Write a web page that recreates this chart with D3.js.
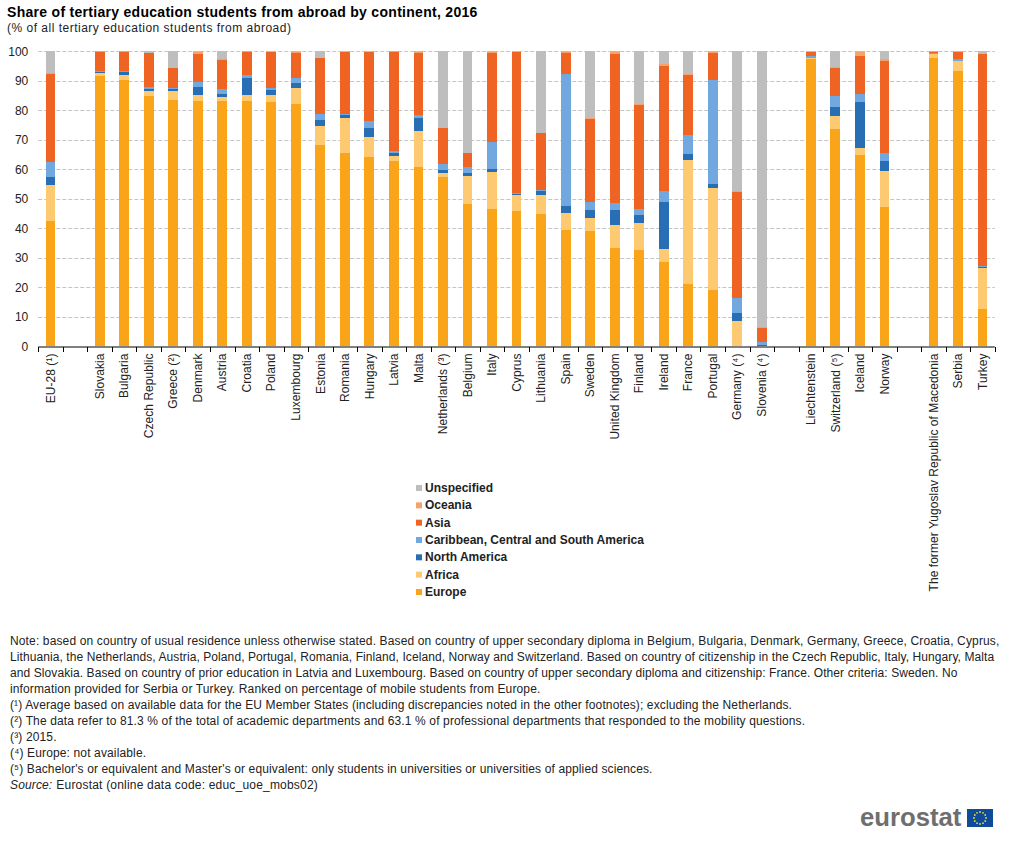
<!DOCTYPE html>
<html><head><meta charset="utf-8">
<script src="https://cdn.jsdelivr.net/npm/d3@7"></script>
<style>html,body{margin:0;padding:0;background:#fff}svg{display:block}text{font-family:"Liberation Sans",Arial,sans-serif}</style>
</head><body><svg id="c" width="1011" height="845"></svg>
<script>
const categories=["EU-28 (¹)","","Slovakia","Bulgaria","Czech Republic","Greece (²)","Denmark","Austria","Croatia","Poland","Luxembourg","Estonia","Romania","Hungary","Latvia","Malta","Netherlands (³)","Belgium","Italy","Cyprus","Lithuania","Spain","Sweden","United Kingdom","Finland","Ireland","France","Portugal","Germany (⁴)","Slovenia (⁴)"," ","Liechtenstein","Switzerland (⁵)","Iceland","Norway","  ","The former Yugoslav Republic of Macedonia","Serbia","Turkey"];
const europe=[42.6,0,91.7,90.3,84.9,83.5,83.2,83.2,83.2,82.9,82.2,68.3,65.6,64.3,62.9,60.9,57.5,48.4,46.7,46,45,39.4,39.1,33.3,32.6,28.6,21.1,19.1,0,0,0,97.4,73.7,64.9,47.1,0,97.7,93.3,12.6];
const africa=[12.2,0,0.9,1.6,1.7,3,2,1.4,2,2.3,5.4,6.4,11.9,6.7,1.7,12.2,1.4,9.4,12.5,5.4,6.4,5.9,4.4,7.8,9.2,4.4,42.1,34.7,8.6,0.1,0,0.3,4.4,2.4,12.4,0,1.4,3.4,13.9];
const northAmerica=[2.7,0,0.4,1.1,0.7,0.6,2.7,1,5.8,1.7,1.7,2.1,1,3.1,1,4.4,1,1.1,1,0.1,1.4,2.4,2.8,5.1,2.8,15.9,2.1,1.3,2.7,0.5,0,0.1,3.1,15.6,3.4,0,0.1,0.1,0.4];
const csAmerica=[5.1,0,0.3,0.2,0.6,0.5,1.7,1.7,1,0.7,1.7,2,0.3,2.3,0.7,1,2,2,9.1,0.3,0.3,44.6,2.7,2.5,2.1,3.9,6.4,35.2,5.1,0.9,0,0.6,3.7,2.7,2.7,0,0.1,0.6,0.3];
const asia=[29.8,0,6.5,6.6,11.5,6.8,9.5,9.8,7.8,12.2,8.4,18.9,21,23.4,33.5,20.9,12.2,4.7,30.1,48.1,19.3,7.1,28.1,50.4,35.1,42.2,20.3,9.1,36,4.7,0,1.4,9.5,12.8,31.1,0,0.4,2.4,71.9];
const oceania=[0.3,0,0.2,0.2,0.1,0.1,0.8,0.2,0.2,0,0.4,0.1,0,0,0.2,0.4,0,0,0.4,0,0,0.4,0.4,0.7,0.4,0.7,0.3,0.4,0.4,0.3,0,0.1,0.3,1.4,0.7,0,0.3,0.1,0];
const unspecified=[7.3,0,0,0,0.5,5.5,0.1,2.7,0,0.2,0.2,2.2,0.2,0.2,0,0.2,25.9,34.4,0.2,0.2,27.6,0.2,22.5,0.2,17.8,4.3,7.7,0.2,47.2,93.5,0,0.1,5.3,0.2,2.6,0,0,0.1,0.9];
const seriesNames=["Europe","Africa","North America","Caribbean, Central and South America","Asia","Oceania","Unspecified"];
const seriesValues=[europe,africa,northAmerica,csAmerica,asia,oceania,unspecified];
const seriesColors=["#FAA519","#FDC971","#286EB4","#71A8DF","#F06423","#F6A26B","#BEBEBE"];
const yTicks=[0,10,20,30,40,50,60,70,80,90,100];
const titleText="Share of tertiary education students from abroad by continent, 2016";
const subtitleText="(% of all tertiary education students from abroad)";
const notes=["Note: based on country of usual residence unless otherwise stated. Based on country of upper secondary diploma in Belgium, Bulgaria, Denmark, Germany, Greece, Croatia, Cyprus,",
"Lithuania, the Netherlands, Austria, Poland, Portugal, Romania, Finland, Iceland, Norway and Switzerland. Based on country of citizenship in the Czech Republic, Italy, Hungary, Malta",
"and Slovakia. Based on country of prior education in Latvia and Luxembourg. Based on country of upper secondary diploma and citizenship: France. Other criteria: Sweden. No",
"information provided for Serbia or Turkey. Ranked on percentage of mobile students from Europe.",
"(¹) Average based on available data for the EU Member States (including discrepancies noted in the other footnotes); excluding the Netherlands.",
"(²) The data refer to 81.3 % of the total of academic departments and 63.1 % of professional departments that responded to the mobility questions.",
"(³) 2015.",
"(⁴) Europe: not available.",
"(⁵) Bachelor's or equivalent and Master's or equivalent: only students in universities or universities of applied sciences."];
const noteSpacing=[0.14,0.085,0.087,0.13,0.12,0.13,0.14,0.14,0.125];

const svg=d3.select("#c");
const x=d3.scaleBand().domain(d3.range(categories.length)).range([38.3,994.8]).paddingInner(0.6).paddingOuter(0.3);
const y=d3.scaleLinear().domain([0,100]).range([346.3,51.3]);
const color=d3.scaleOrdinal(seriesNames,seriesColors);

svg.append("text").attr("x",7).attr("y",17).attr("font-size",14).attr("font-weight","bold").attr("letter-spacing",0.29).attr("fill","#000").text(titleText);
svg.append("text").attr("x",7).attr("y",32).attr("font-size",12).attr("letter-spacing",0.5).attr("fill","#222").text(subtitleText);

const gy=svg.append("g").attr("transform","translate(38.3,0)")
 .call(d3.axisLeft(y).tickValues(yTicks).tickSize(0).tickPadding(10));
gy.select(".domain").remove();
gy.selectAll("text").attr("font-size",12).attr("font-family",null).attr("fill","#222");
svg.append("g").selectAll("line").data(yTicks.filter(d=>d>0)).join("line")
 .attr("x1",38.3).attr("x2",994.8).attr("y1",d=>Math.round(y(d))+0.5).attr("y2",d=>Math.round(y(d))+0.5)
 .attr("stroke","#C4C4C4").attr("stroke-width",1).attr("stroke-dasharray","4,2");

const rows=categories.map((c,i)=>{const r={i};seriesNames.forEach((s,k)=>r[s]=seriesValues[k][i]);return r;});
const stack=d3.stack().keys(seriesNames)(rows);
svg.append("g").attr("shape-rendering","crispEdges").selectAll("g").data(stack).join("g").attr("fill",d=>color(d.key))
 .selectAll("rect").data(d=>d.filter(p=>p[1]>p[0])).join("rect")
 .attr("x",d=>x(d.data.i)).attr("width",x.bandwidth())
 .attr("y",d=>y(d[1])).attr("height",d=>y(d[0])-y(d[1]));

const gx=svg.append("g").attr("transform","translate(0,346.5)")
 .call(d3.axisBottom(x).tickSize(0).tickFormat(i=>categories[i]));
gx.select(".domain").attr("stroke","#000").attr("d","M38.3,0.5H994.8");
gx.selectAll("text").attr("font-size",12).attr("font-family",null).attr("fill","#222").attr("letter-spacing",0.05)
 .attr("transform","rotate(-90)").attr("text-anchor","end").attr("x",-7).attr("y",0).attr("dy","0.35em");
const step=x.step();
svg.append("g").selectAll("line").data(d3.range(categories.length+1)).join("line")
 .attr("x1",i=>Math.round(38.3+i*step)+0.5).attr("x2",i=>Math.round(38.3+i*step)+0.5)
 .attr("y1",347).attr("y2",352).attr("stroke","#000");

const legendTop=488,legendStep=17.33;
const lg=svg.append("g").selectAll("g").data(seriesNames.slice().reverse()).join("g")
 .attr("transform",(d,i)=>`translate(416,${legendTop+i*legendStep})`);
lg.append("rect").attr("x",0).attr("y",-3).attr("width",6).attr("height",6).attr("fill",d=>color(d));
lg.append("text").attr("x",9).attr("y",4).attr("font-size",12).attr("font-weight","bold").attr("fill","#222").text(d=>d);

const nt=svg.append("g");
notes.forEach((t,i)=>nt.append("text").attr("x",10).attr("y",645+i*16).attr("font-size",12).attr("letter-spacing",noteSpacing[i]).attr("fill","#222").text(t));
const src=nt.append("text").attr("x",10).attr("y",645+9*16).attr("font-size",12).attr("letter-spacing",0.14).attr("fill","#222");
src.append("tspan").attr("font-style","italic").text("Source:");
src.append("tspan").attr("dx",4).attr("letter-spacing",0.2).text("Eurostat (online data code: educ_uoe_mobs02)");

svg.append("text").attr("x",860).attr("y",826).attr("font-size",25.7).attr("font-weight","bold").attr("fill","#6E6E6E").text("eurostat");
svg.append("rect").attr("x",967).attr("y",809).attr("width",26).attr("height",18).attr("fill","#0F4B9B");
svg.append("g").selectAll("circle").data(d3.range(12)).join("circle")
 .attr("cx",i=>980+6*Math.cos(i*Math.PI/6)).attr("cy",i=>818+6*Math.sin(i*Math.PI/6)).attr("r",0.9).attr("fill","#E8D93A");
</script></body></html>
